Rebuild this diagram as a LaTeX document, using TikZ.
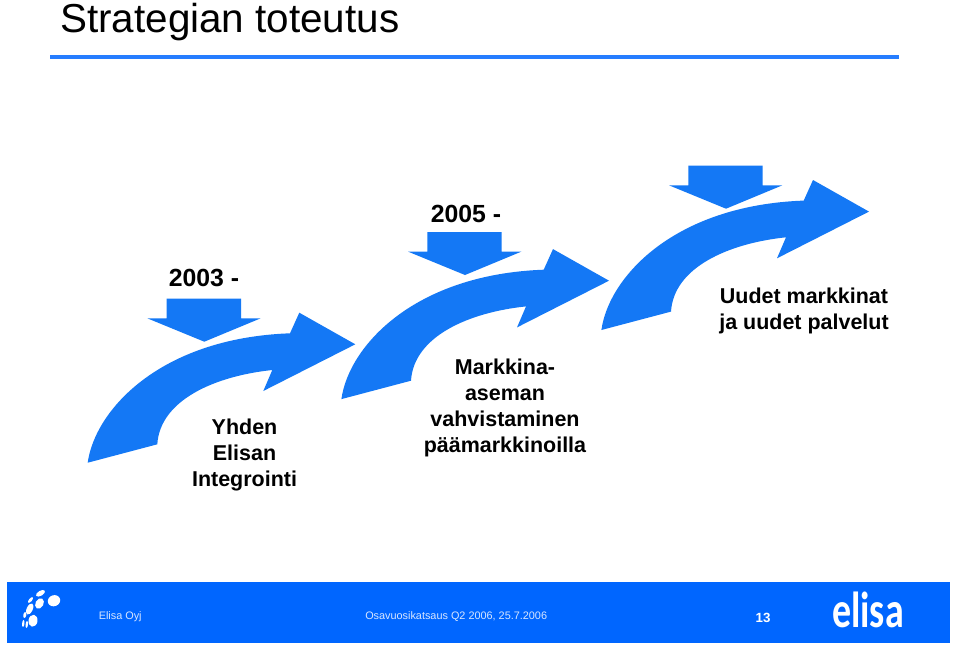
\documentclass[tikz,border=0pt]{standalone}
\usepackage{fontspec}
\setmainfont{Liberation Sans}
\newfontfamily\logofont{Carlito}
\usepackage{xcolor}
\usetikzlibrary{positioning,calc}
\definecolor{arrowcol}{RGB}{20,120,245}
\definecolor{barcol}{RGB}{0,102,255}
\definecolor{footcol}{RGB}{215,230,255}
\tikzset{
  arrowshape/.style={fill=arrowcol, draw=none},
  labeltext/.style={font=\fontsize{16.1}{19.5}\selectfont\bfseries, align=center, black, inner sep=0pt},
  yeartext/.style={font=\fontsize{18.6}{22}\selectfont\bfseries, black, inner sep=0pt},
  foottext/.style={font=\fontsize{8.15}{10}\selectfont, footcol, inner sep=0pt, anchor=base west},
  logodot/.style={fill=white, draw=none},
}
\begin{document}
\begin{tikzpicture}[x=0.75pt, y=-0.75pt]
\useasboundingbox (0,0) rectangle (960,654);
\fill[white] (0,0) rectangle (960,654);
% title and rule
\node[font=\fontsize{30.3}{36}\selectfont, inner sep=0pt, anchor=base west, text=black] (title) at (60,32) {Strategian toteutus};
\fill[barcol!85!white] (50,54.5) rectangle (899,58.5);
% three steps, same shape shifted
\foreach \dx/\dy/\ddx/\ddy in {0/0/0/0, 253.7/-63.6/260.7/-66.7, 513.7/-132.7/521.7/-133}{
  \fill[arrowshape, shift={(\dx*0.75pt,\dy*-0.75pt)}] (87.7,462.7)
    .. controls (95,410) and (160,338) .. (290,333.3)
    -- (299.3,312.7) -- (355.3,344.3) -- (263.3,391) -- (272.3,370)
    .. controls (215,376) and (160,400) .. (157.3,444.3) -- cycle;
  \fill[arrowshape, shift={(\ddx*0.75pt,\ddy*-0.75pt)}] (166.7,298.7) -- (241,298.7) -- (241,318.3)
    -- (260.7,318.3) -- (204.3,341.7) -- (147.3,318.3) -- (166.7,318.3) -- cycle;
}
% labels
\node[yeartext] (first) at (204,278) {2003 -};
\node[yeartext] (second) at (466,214) {2005 -};
\node[labeltext] (integ) at (244.5,455) {Yhden\\Elisan\\Integrointi};
\node[labeltext] (mark) at (505,408) {Markkina-\\aseman\\vahvistaminen\\päämarkkinoilla};
\node[labeltext] (new) at (804,311) {Uudet markkinat\\ja uudet palvelut};
% footer
\fill[barcol] (7,582) rectangle (950,643);
\node[foottext] (company) at (98.5,619) {Elisa Oyj};
\node[foottext] (report) at (365,619) {Osavuosikatsaus Q2 2006, 25.7.2006};
\node[foottext, white, anchor=center, font=\fontsize{10}{12}\selectfont\bfseries] (page) at (763,617.5) {13};
\node[inner sep=0pt, white, font=\fontsize{38}{44}\logofont\bfseries, anchor=base, xscale=0.75] (logo) at (868,627) {elisa};
% logo dots
\foreach \px/\py/\ra/\rb/\ang in {54/600.7/6.3/5.5/20, 39.5/603.5/5.5/4/60, 40.5/593.3/5/2.5/30, 30.5/600/3.5/1.5/50, 29.7/609/6/3/65, 33/620.7/6/4.5/80, 24.8/615/3/1.5/80, 23.3/623.5/3.5/1.2/85, 26.8/624.5/3.5/1.2/85}{
  \fill[logodot, rotate around={\ang:(\px,\py)}] (\px,\py) ellipse [x radius=\ra, y radius=\rb];
}
\end{tikzpicture}
\end{document}
